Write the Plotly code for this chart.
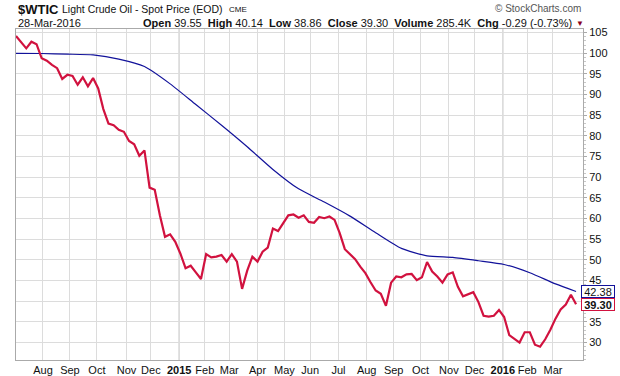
import numpy as np
import pandas as pd
import plotly.graph_objects as go

# ---------------- data ----------------
start_date = "2014-07-02"
end_date = "2016-03-28"
holidays = ["2014-07-04", "2014-09-01", "2014-11-27", "2014-12-25",
            "2015-01-01", "2015-01-19", "2015-02-16", "2015-04-03",
            "2015-05-25", "2015-07-03", "2015-09-07", "2015-11-26",
            "2015-12-25", "2016-01-01", "2016-01-18", "2016-02-15",
            "2016-03-25"]

# close price, one reading every 4 trading days
price_step = 4
price = [104.2, 102.6, 101.2, 102.8, 102.2, 98.8, 98.2, 97.2, 96.4, 93.8,
         94.8, 94.5, 92.4, 94.2, 92.0, 94.0, 91.5, 86.5, 83.0, 82.6,
         81.5, 81.0, 78.8, 78.0, 75.2, 76.5, 67.5, 67.0, 60.8, 55.6,
         56.2, 54.4, 51.5, 48.0, 48.6, 47.0, 45.4, 51.4, 50.6, 50.8,
         51.2, 49.6, 51.4, 49.6, 43.0, 47.4, 50.8, 49.6, 52.0, 53.0,
         57.6, 57.0, 59.0, 60.8, 61.0, 60.2, 60.8, 59.2, 59.0, 60.4,
         60.1, 60.5, 59.7, 56.5, 52.6, 51.5, 50.2, 48.4, 46.8, 44.6,
         42.6, 41.8, 38.9, 44.5, 46.0, 45.8, 46.5, 46.6, 45.1, 45.8,
         49.5, 47.2, 46.0, 44.5, 46.5, 47.0, 43.5, 41.2, 41.8, 42.2,
         39.8, 36.5, 36.3, 36.5, 37.9, 36.2, 31.8, 31.0, 30.0, 32.5,
         32.5, 29.5, 29.0, 30.8, 33.1, 35.8, 38.0, 39.2, 41.6, 39.3]

# 200-day moving average, one reading every 20 trading days + last day
ma_step = 20
ma = [100.0, 99.95, 99.8, 99.6, 98.6, 96.8, 92.6, 87.6, 82.6, 77.4,
      71.9, 67.2, 64.0, 60.6, 56.6, 52.8, 51.0, 50.6, 49.8, 48.9,
      46.9, 44.2]
ma_last = 42.38

y_ticks = [30, 35, 40, 45, 50, 55, 60, 65, 70, 75, 80, 85, 90, 95, 100, 105]
month_abbr = ["", "Jan", "Feb", "Mar", "Apr", "May", "Jun", "Jul",
              "Aug", "Sep", "Oct", "Nov", "Dec"]

header_info = ("<b>Open</b> 39.55  <b>High</b> 40.14  <b>Low</b> 38.86  "
               "<b>Close</b> 39.30  <b>Volume</b> 285.4K  <b>Chg</b> -0.29 (-0.73%)")

# ---------------- trading calendar ----------------
days = pd.bdate_range(start_date, end_date)
days = days[~days.isin(pd.to_datetime(holidays))]
n_days = len(days)
idx = np.arange(n_days)

price_x = idx[::price_step][:len(price)]
ma_x = list(idx[::ma_step][:len(ma)]) + [idx[-1]]
ma_y = ma + [ma_last]

# month starts (first trading day of each month)
tickvals, ticktext, year_lines = [], [], []
prev = None
for i, d in enumerate(days):
    key = (d.year, d.month)
    if prev is not None and key != prev:
        tickvals.append(i)
        if d.month == 1:
            ticktext.append("<b>%d</b>" % d.year)
            year_lines.append(i)
        else:
            ticktext.append(month_abbr[d.month])
    prev = key

RED = "#d1123f"
BLUE = "#12129a"
FONT = "Liberation Sans, Arial, sans-serif"

fig = go.Figure()
fig.add_trace(go.Scatter(x=ma_x, y=ma_y, mode="lines",
                         line=dict(color=BLUE, width=1.2, shape="spline", smoothing=0.6),
                         hoverinfo="skip", showlegend=False))
fig.add_trace(go.Scatter(x=price_x, y=price, mode="lines",
                         line=dict(color=RED, width=2.2),
                         showlegend=False))

for yl in year_lines:
    fig.add_shape(type="line", xref="x", yref="paper", x0=yl, x1=yl, y0=0, y1=1,
                  line=dict(color="#b4b4b4", width=1), layer="below")

W, H = 620, 376
ml, mr, mt, mb = 16, 37, 29, 16
pw, ph = W - ml - mr, H - mt - mb


def px(xp):  # page pixel -> paper x
    return (xp - ml) / pw


def py(yp):  # page pixel -> paper y
    return (H - mb - yp) / ph


ann = []
ann.append(dict(text="<b>$WTIC</b>", x=px(16), y=py(9), font=dict(size=13, color="#111")))
ann.append(dict(text="Light Crude Oil - Spot Price (EOD)", x=px(60), y=py(9),
                font=dict(size=10.5, color="#111")))
ann.append(dict(text="CME", x=px(227), y=py(9.5), font=dict(size=8, color="#111")))
ann.append(dict(text="28-Mar-2016", x=px(16), y=py(23), font=dict(size=11, color="#111")))
ann.append(dict(text=header_info, x=px(574), y=py(23), xanchor="right",
                font=dict(size=11, color="#111")))
ann.append(dict(text="▼", x=px(574), y=py(23.5), font=dict(size=8, color="#8b0020")))
ann.append(dict(text="© StockCharts.com", x=px(583), y=py(8.5), xanchor="right",
                font=dict(size=10, color="#555")))

annotations = []
for a in ann:
    d = dict(xref="paper", yref="paper", showarrow=False, yanchor="middle",
             xanchor=a.get("xanchor", "left"), x=a["x"], y=a["y"], text=a["text"],
             font=dict(family=FONT, **a["font"]))
    annotations.append(d)

annotations.append(dict(xref="paper", yref="y", x=1.0, y=ma_last, xanchor="left", yanchor="middle",
                        text="42.38", showarrow=False, bgcolor="white", bordercolor=BLUE,
                        borderwidth=1, borderpad=0, xshift=-2, width=32, height=11,
                        font=dict(family=FONT, size=11, color="#111")))
annotations.append(dict(xref="paper", yref="y", x=1.0, y=price[-1], xanchor="left", yanchor="middle",
                        text="<b>39.30</b>", showarrow=False, bgcolor="white", bordercolor=RED,
                        borderwidth=1, borderpad=0, xshift=-2, width=32, height=11,
                        font=dict(family=FONT, size=11, color="#111")))

fig.update_layout(
    width=W, height=H,
    margin=dict(l=ml, r=mr, t=mt, b=mb, autoexpand=False),
    paper_bgcolor="white", plot_bgcolor="white",
    font=dict(family=FONT, size=11, color="#222"),
    annotations=annotations,
    hovermode=False,
    xaxis=dict(range=[0, 441.4], tickmode="array", tickvals=tickvals, ticktext=ticktext,
               showgrid=True, gridcolor="#dcdcdc", gridwidth=1, zeroline=False,
               showline=True, linecolor="#aaaaaa", linewidth=1, mirror=True,
               ticks="", tickfont=dict(size=11, color="#111")),
    yaxis=dict(range=[25.79, 105.88], side="right", tickmode="array", tickvals=y_ticks,
               ticktext=[str(v) for v in y_ticks],
               showgrid=True, gridcolor="#dcdcdc", gridwidth=1, zeroline=False,
               showline=True, linecolor="#aaaaaa", linewidth=1, mirror=True,
               ticks="outside", ticklen=3, tickcolor="#aaaaaa",
               minor=dict(dtick=1, ticks="outside", ticklen=2, tickcolor="#c8c8c8", showgrid=False),
               tickfont=dict(size=11, color="#111")),
)

fig.write_html("out.html",
               config={"displayModeBar": False, "staticPlot": True},
               post_script="document.body.style.margin='0px';document.body.style.overflow='hidden';")
